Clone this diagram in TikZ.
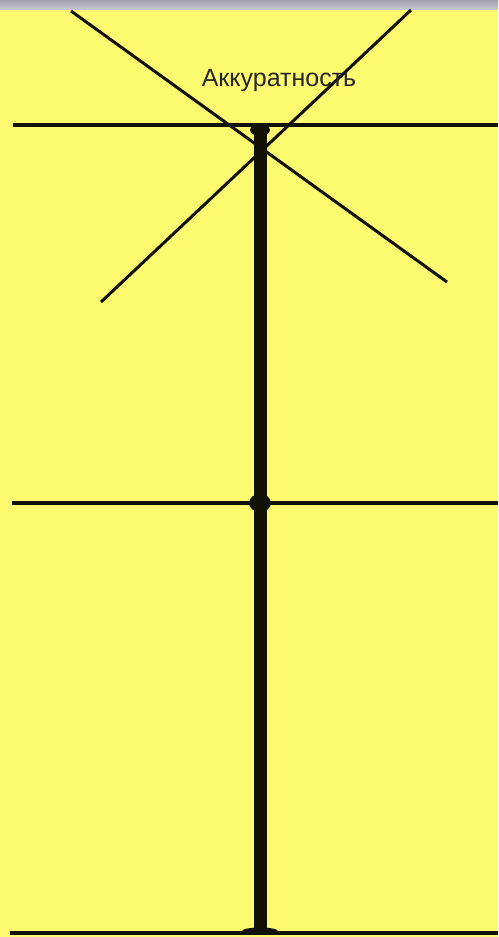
\documentclass[tikz,border=0pt]{standalone}
\usepackage{fontspec}
\setmainfont{Liberation Sans}
\begin{document}
\begin{tikzpicture}[x=1pt,y=-1pt,
  thinline/.style={line width=3.4pt,draw=ink},
  trunk/.style={line width=13pt,draw=ink},
  label/.style={font=\fontsize{25}{28}\selectfont,text=black!85}]
\definecolor{bg}{RGB}{255,251,112}
\definecolor{ink}{RGB}{18,18,4}
\definecolor{bandtop}{RGB}{160,163,175}
\definecolor{bandbot}{RGB}{196,198,208}
\fill[bg] (0,0) rectangle (498,937);
\shade[top color=bandtop,bottom color=bandbot] (0,0) rectangle (498,9);
\useasboundingbox (0,0) rectangle (498,937);
% coordinates
\coordinate (d1a) at (71,11);
\coordinate (d1b) at (447,282);
\coordinate (d2a) at (411,10);
\coordinate (d2b) at (101,302);
\coordinate (h1a) at (13,125);
\coordinate (h1b) at (498,125);
\coordinate (h2a) at (12,503);
\coordinate (h2b) at (498,503);
\coordinate (h3a) at (10,933);
\coordinate (h3b) at (498,933);
\coordinate (vt) at (260,125);
\coordinate (vb) at (260,935);
% trunk
\draw[trunk] (vt) -- (vb);
\fill[ink] (260,503) ellipse (11 and 9);
\fill[ink] (260,931) ellipse (18 and 3.5);
\fill[ink] (260,130) ellipse (10 and 6);
% horizontal lines
\draw[thinline,line width=4.5pt] (h1a) -- (h1b);
\draw[thinline] (h2a) -- (h2b);
\draw[thinline,line width=4.5pt] (h3a) -- (h3b);
% diagonals
\draw[thinline,line width=3pt] (d1a) -- (d1b);
\draw[thinline,line width=3pt] (d2a) -- (d2b);
% label
\node[label] (t) at (279,80) {Аккуратность};
\end{tikzpicture}
\end{document}
